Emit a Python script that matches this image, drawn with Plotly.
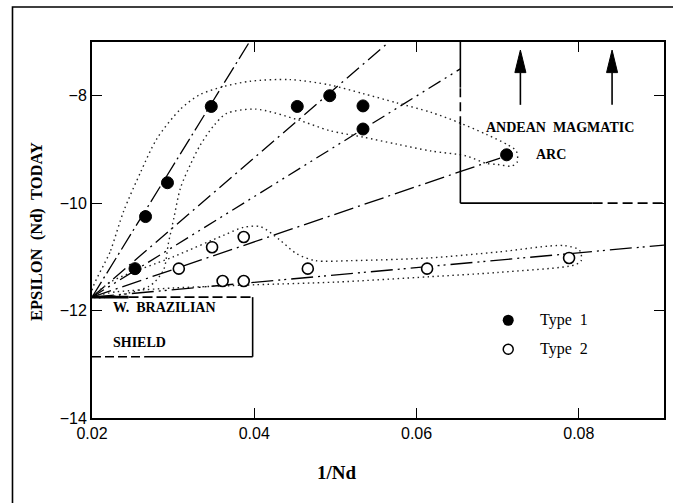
import plotly.graph_objects as go

# ---- data -------------------------------------------------------------
# Type 1 samples (filled circles)
type1_x = [0.0253, 0.0266, 0.0293, 0.0347, 0.0453, 0.0493, 0.0534, 0.0534, 0.0711]
type1_y = [-11.22, -10.25, -9.62, -8.20, -8.20, -8.00, -8.19, -8.62, -9.10]

# Type 2 samples (open circles)
type2_x = [0.0307, 0.0348, 0.0361, 0.0387, 0.0387, 0.0466, 0.0613, 0.0788]
type2_y = [-11.22, -10.82, -11.45, -11.45, -10.63, -11.22, -11.22, -11.02]

# common end-member (W. Brazilian shield) where the mixing lines meet
source_x = 0.0200
source_y = -11.75

# far end of each mixing line
mix_end_x = [0.0394, 0.0566, 0.0654, 0.0703, 0.0905]
mix_end_y = [-7.00, -7.00, -7.50, -9.16, -10.78]
mix_dash = ["18px,4px,2px,4px", "16px,5px,2px,5px", "14px,5px,2px,5px,2px,5px",
            "20px,5px,2px,5px", "22px,5px,2px,4px,2px,5px"]

# dotted envelope around the Type 1 samples
env1_x = [0.0200, 0.0223, 0.0239, 0.0260, 0.0280, 0.0309, 0.0333, 0.0362, 0.0395,
          0.0444, 0.0493, 0.0534, 0.0575, 0.0618, 0.0654, 0.0686, 0.0712, 0.0723,
          0.0724, 0.0717, 0.0700, 0.0686, 0.0661, 0.0618, 0.0575, 0.0534, 0.0493,
          0.0452, 0.0402, 0.0366, 0.0350, 0.0333, 0.0321, 0.0309, 0.0301, 0.0294,
          0.0288, 0.0270, 0.0200]
env1_y = [-11.73, -10.88, -10.15, -9.42, -8.80, -8.25, -7.98, -7.83, -7.73,
          -7.70, -7.80, -7.96, -8.13, -8.31, -8.51, -8.72, -8.91, -9.03,
          -9.24, -9.31, -9.28, -9.26, -9.12, -9.03, -8.90, -8.77, -8.65,
          -8.44, -8.25, -8.33, -8.56, -8.93, -9.29, -9.72, -10.27, -10.76,
          -11.25, -11.55, -11.73]

# dotted envelope around the Type 2 samples
env2_x = [0.0205, 0.0225, 0.0300, 0.0362, 0.0387, 0.0408, 0.0431, 0.0452, 0.0475,
          0.0520, 0.0616, 0.0700, 0.0782, 0.0801, 0.0803, 0.0795, 0.0700, 0.0616,
          0.0500, 0.0400, 0.0300, 0.0230, 0.0205]
env2_y = [-11.70, -11.45, -11.00, -10.60, -10.45, -10.44, -10.68, -10.94, -11.07,
          -11.07, -11.02, -10.91, -10.79, -10.88, -11.07, -11.15, -11.29, -11.37,
          -11.47, -11.52, -11.58, -11.65, -11.70]

# labelled source regions
shield_box = dict(x0=0.0200, x1=0.0398, y0=-12.86, y1=-11.75)
andean_box = dict(x0=0.0654, x1=0.0905, y0=-10.0, y1=-7.0)
arrow_x = [0.0728, 0.0841]
arrow_base_y = -8.17
arrow_tip_y = -7.15

x_ticks = [0.02, 0.04, 0.06, 0.08]
y_ticks = [-8, -10, -12, -14]

# ---- figure -----------------------------------------------------------
fig = go.Figure()

serif = "Liberation Serif"
ink = "black"

for xe, ye, dsh in zip(mix_end_x, mix_end_y, mix_dash):
    fig.add_trace(go.Scatter(x=[source_x, xe], y=[source_y, ye], mode="lines",
                             line=dict(color=ink, width=1.3, dash=dsh),
                             hoverinfo="skip", showlegend=False))

for ex, ey in ((env1_x, env1_y), (env2_x, env2_y)):
    fig.add_trace(go.Scatter(x=ex, y=ey, mode="lines",
                             line=dict(color="#222", width=1.4, dash="1.5px,3.5px",
                                       shape="spline", smoothing=0.8),
                             hoverinfo="skip", showlegend=False))

fig.add_trace(go.Scatter(x=type1_x, y=type1_y, mode="markers", name="Type 1",
                         marker=dict(symbol="circle", size=12, color=ink,
                                     line=dict(color=ink, width=1)),
                         showlegend=False))
fig.add_trace(go.Scatter(x=type2_x, y=type2_y, mode="markers", name="Type 2",
                         marker=dict(symbol="circle", size=11, color="white",
                                     line=dict(color=ink, width=1.6)),
                         showlegend=False))

# key
key_x = 0.0713
key_text_x = 0.0750
key_y = [-12.18, -12.72]
fig.add_trace(go.Scatter(x=[key_x], y=[key_y[0]], mode="markers",
                         marker=dict(size=11, color=ink), showlegend=False,
                         hoverinfo="skip"))
fig.add_trace(go.Scatter(x=[key_x], y=[key_y[1]], mode="markers",
                         marker=dict(size=10, color="white", line=dict(color=ink, width=1.5)),
                         showlegend=False, hoverinfo="skip"))

shapes = []
# W. Brazilian shield box
sb = shield_box
shapes += [
    dict(type="line", x0=sb["x0"], x1=0.0245, y0=sb["y1"], y1=sb["y1"],
         line=dict(color=ink, width=2.6)),
    dict(type="line", x0=0.0245, x1=sb["x1"], y0=sb["y1"], y1=sb["y1"],
         line=dict(color=ink, width=1.6, dash="10px,4px")),
    dict(type="line", x0=sb["x1"], x1=sb["x1"], y0=sb["y0"], y1=sb["y1"],
         line=dict(color=ink, width=1.6)),
    dict(type="line", x0=0.0265, x1=sb["x1"], y0=sb["y0"], y1=sb["y0"],
         line=dict(color=ink, width=1.6)),
    dict(type="line", x0=sb["x0"], x1=0.0265, y0=sb["y0"], y1=sb["y0"],
         line=dict(color=ink, width=1.6, dash="9px,4px")),
]
# Andean magmatic arc box
ab = andean_box
shapes += [
    dict(type="line", x0=ab["x0"], x1=ab["x0"], y0=-7.85, y1=ab["y1"],
         line=dict(color=ink, width=1.6)),
    dict(type="line", x0=ab["x0"], x1=ab["x0"], y0=-8.55, y1=-7.85,
         line=dict(color=ink, width=1.6, dash="9px,5px")),
    dict(type="line", x0=ab["x0"], x1=ab["x0"], y0=ab["y0"], y1=-8.55,
         line=dict(color=ink, width=1.6)),
    dict(type="line", x0=ab["x0"], x1=0.0817, y0=ab["y0"], y1=ab["y0"],
         line=dict(color=ink, width=1.6)),
    dict(type="line", x0=0.0817, x1=ab["x1"], y0=ab["y0"], y1=ab["y0"],
         line=dict(color=ink, width=1.6, dash="10px,5px")),
]
# upward arrows
head_len = 0.42
head_half = 0.00068
for ax in arrow_x:
    head_base = arrow_tip_y - head_len
    shapes.append(dict(type="line", x0=ax, x1=ax, y0=arrow_base_y, y1=head_base,
                       line=dict(color=ink, width=1.6)))
    shapes.append(dict(type="path",
                       path=f"M {ax - head_half},{head_base} L {ax + head_half},{head_base} L {ax},{arrow_tip_y} Z",
                       fillcolor=ink, line=dict(color=ink, width=1)))
# outer frame of the figure
shapes.append(dict(type="rect", xref="paper", yref="paper", x0=-0.139, x1=1.03, y0=-0.6, y1=1.093,
                   line=dict(color=ink, width=1.6), fillcolor="rgba(0,0,0,0)", layer="below"))

label_font = dict(family=serif, size=14, color=ink)
annotations = [
    dict(x=0.0777, y=-8.60, text="<b>ANDEAN\u00a0\u00a0MAGMATIC</b>", showarrow=False, font=label_font),
    dict(x=0.0766, y=-9.10, text="<b>ARC</b>", showarrow=False, font=label_font),
    dict(x=0.0223, y=-11.95, text="<b>W.\u00a0\u00a0BRAZILIAN</b>", showarrow=False, xanchor="left",
         font=label_font),
    dict(x=0.0223, y=-12.60, text="<b>SHIELD</b>", showarrow=False, xanchor="left", font=label_font),
    dict(x=key_text_x, y=key_y[0], text="Type\u00a0\u00a01", showarrow=False, xanchor="left",
         font=dict(family=serif, size=16, color=ink)),
    dict(x=key_text_x, y=key_y[1], text="Type\u00a0\u00a02", showarrow=False, xanchor="left",
         font=dict(family=serif, size=16, color=ink)),
    # axis titles
    dict(xref="paper", yref="paper", x=0.4286, y=-0.146, xanchor="center", yanchor="middle",
         text="<b>1/Nd</b>", showarrow=False, font=dict(family=serif, size=19, color=ink)),
    dict(xref="paper", yref="paper", x=-0.096, y=0.495, xanchor="center", yanchor="middle",
         textangle=-90, showarrow=False,
         text="<b>EPSILON\u00a0\u00a0(Nd)\u00a0\u00a0TODAY</b>", font=dict(family=serif, size=16.5, color=ink)),
]

fig.update_layout(
    width=673, height=503,
    margin=dict(l=92, r=7, t=42, b=85),
    paper_bgcolor="white", plot_bgcolor="white",
    shapes=shapes, annotations=annotations,
    font=dict(family="Liberation Sans", size=16, color=ink),
)
fig.update_xaxes(
    range=[0.02, 0.0905], tickvals=x_ticks, ticktext=[f"{v:.2f}" for v in x_ticks],
    ticks="inside", ticklen=10, tickwidth=1.3, tickcolor=ink,
    showline=True, linecolor=ink, linewidth=2, mirror="ticks", showgrid=False, zeroline=False,
)
fig.update_yaxes(
    range=[-14, -7], tickvals=y_ticks, ticktext=["\u22128", "\u221210", "\u221212", "\u221214"],
    ticks="inside", ticklen=10, tickwidth=1.3, tickcolor=ink,
    showline=True, linecolor=ink, linewidth=2, mirror="ticks", showgrid=False, zeroline=False,
)

fig.write_html("out.html")
